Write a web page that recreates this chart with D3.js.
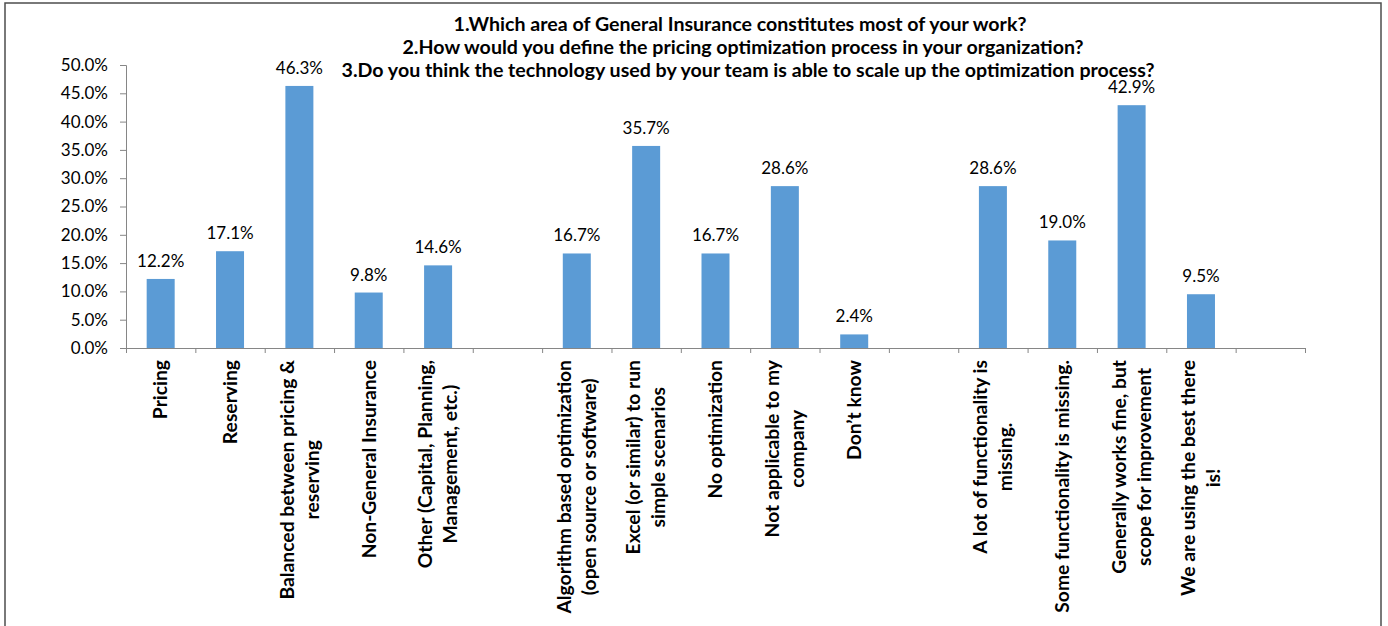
<!DOCTYPE html>
<html>
<head>
<meta charset="utf-8">
<script src="https://cdn.jsdelivr.net/npm/d3@7"></script>
<style>
  body { margin: 0; background: #fff; }
  text { font-family: Lato, "Open Sans", sans-serif; }
</style>
</head>
<body>
<svg id="chart"></svg>
<script>
// chart data
var titleLines = [
    "1.Which area of General Insurance constitutes most of your work?",
    "2.How would you define the pricing optimization process in your organization?",
    "3.Do you think the technology used by your team is able to scale up the optimization process?"
];

// empty strings are the gaps between the three questions
var categories = [
    "Pricing",
    "Reserving",
    "Balanced between pricing &\nreserving",
    "Non-General Insurance",
    "Other (Capital, Planning,\nManagement, etc.)",
    "",
    "Algorithm based optimization\n(open source or software)",
    "Excel (or similar) to run\nsimple scenarios",
    "No optimization",
    "Not applicable to my\ncompany",
    "Don\u2019t know",
    "",
    "A lot of functionality is\nmissing.",
    "Some functionality is missing.",
    "Generally works fine, but\nscope for improvement",
    "We are using the best there\nis!",
    ""
];

var values = [12.2, 17.1, 46.3, 9.8, 14.6, null, 16.7, 35.7, 16.7, 28.6, 2.4, null, 28.6, 19.0, 42.9, 9.5, null];

var yTicks = [0, 5, 10, 15, 20, 25, 30, 35, 40, 45, 50];

drawChart();

function drawChart() {
    var svgWidth = 1388, svgHeight = 626;
    var margin = { top: 65, left: 126, right: 83, bottom: 278 };
    var width = svgWidth - margin.left - margin.right;
    var height = svgHeight - margin.top - margin.bottom;

    var svg = d3.select('#chart')
        .attr('width', svgWidth)
        .attr('height', svgHeight);

    // outer frame
    svg.append('rect')
        .attr('x', 5).attr('y', 3)
        .attr('width', 1376).attr('height', 660)
        .attr('fill', 'none')
        .attr('stroke', '#4d4d4d')
        .attr('stroke-width', 1.5);

    var title = svg.append('text')
        .attr('text-anchor', 'middle')
        .attr('font-size', '19.6px')
        .attr('font-weight', 'bold')
        .attr('fill', '#000');
    title.selectAll('tspan')
        .data(titleLines)
        .join('tspan')
        .attr('x', (d, i) => [740, 743, 748][i])
        .attr('y', (d, i) => 31 + i * 23)
        .text(d => d);

    var g = svg.append('g')
        .attr('transform', 'translate(' + margin.left + ',' + margin.top + ')');

    var x = d3.scaleBand()
        .domain(d3.range(categories.length))
        .range([0, width])
        .paddingInner(0.6)
        .paddingOuter(0.3);

    var y = d3.scaleLinear()
        .domain([0, 50])
        .range([height, 0]);

    // y axis
    var yAxis = g.append('g')
        .call(d3.axisLeft(y)
            .tickValues(yTicks)
            .tickSize(6)
            .tickPadding(12)
            .tickFormat(d => d.toFixed(1) + '%'));
    yAxis.selectAll('path, line').attr('stroke', '#868686');
    yAxis.selectAll('text')
        .attr('font-size', '17px')
        .attr('font-family', 'Lato, sans-serif')
        .attr('fill', '#000');

    // x axis: ticks on slot boundaries
    var step = x.step();
    var boundaries = d3.range(categories.length + 1).map(i => i * step);
    var xb = d3.scaleLinear().domain([0, width]).range([0, width]);
    var xAxis = g.append('g')
        .attr('transform', 'translate(0,' + height + ')')
        .call(d3.axisBottom(xb)
            .tickValues(boundaries)
            .tickSize(5)
            .tickSizeOuter(0)
            .tickFormat(''));
    xAxis.selectAll('path, line').attr('stroke', '#868686');

    // bars
    var barData = values.map((v, i) => ({ i: i, v: v })).filter(d => d.v !== null);
    var bw = 28;
    g.selectAll('.bar')
        .data(barData)
        .join('rect')
        .attr('class', 'bar')
        .attr('x', d => x(d.i) + x.bandwidth() / 2 - bw / 2)
        .attr('width', bw)
        .attr('y', d => y(d.v))
        .attr('height', d => height - y(d.v))
        .attr('fill', '#5B9BD5');

    // value labels
    g.selectAll('.val')
        .data(barData)
        .join('text')
        .attr('class', 'val')
        .attr('x', d => x(d.i) + x.bandwidth() / 2)
        .attr('y', d => y(d.v) - 12)
        .attr('text-anchor', 'middle')
        .attr('font-size', '17px')
        .attr('fill', '#000')
        .text(d => d.v.toFixed(1) + '%');

    // rotated category labels, lines centred inside the block, block flush to the axis
    var lh = 25;
    var labels = g.selectAll('.cat')
        .data(categories.map((c, i) => ({ i: i, lines: c ? c.split('\n') : [] })))
        .join('text')
        .attr('class', 'cat')
        .attr('font-size', '19.3px')
        .attr('font-weight', 'bold')
        .attr('fill', '#000')
        .attr('text-anchor', 'middle');

    labels.each(function(d) {
        var t = d3.select(this);
        var n = d.lines.length;
        var spans = t.selectAll('tspan')
            .data(d.lines)
            .join('tspan')
            .attr('x', 0)
            .attr('y', (l, k) => (k - (n - 1) / 2) * lh)
            .attr('dy', '0.35em')
            .text(l => l);
        var maxLen = 0;
        spans.each(function() { maxLen = Math.max(maxLen, this.getComputedTextLength()); });
        spans.attr('x', -maxLen / 2);
        var cx = x(d.i) + x.bandwidth() / 2;
        t.attr('transform', 'translate(' + cx + ',' + (height + 12) + ') rotate(-90)');
    });
}
</script>
</body>
</html>
